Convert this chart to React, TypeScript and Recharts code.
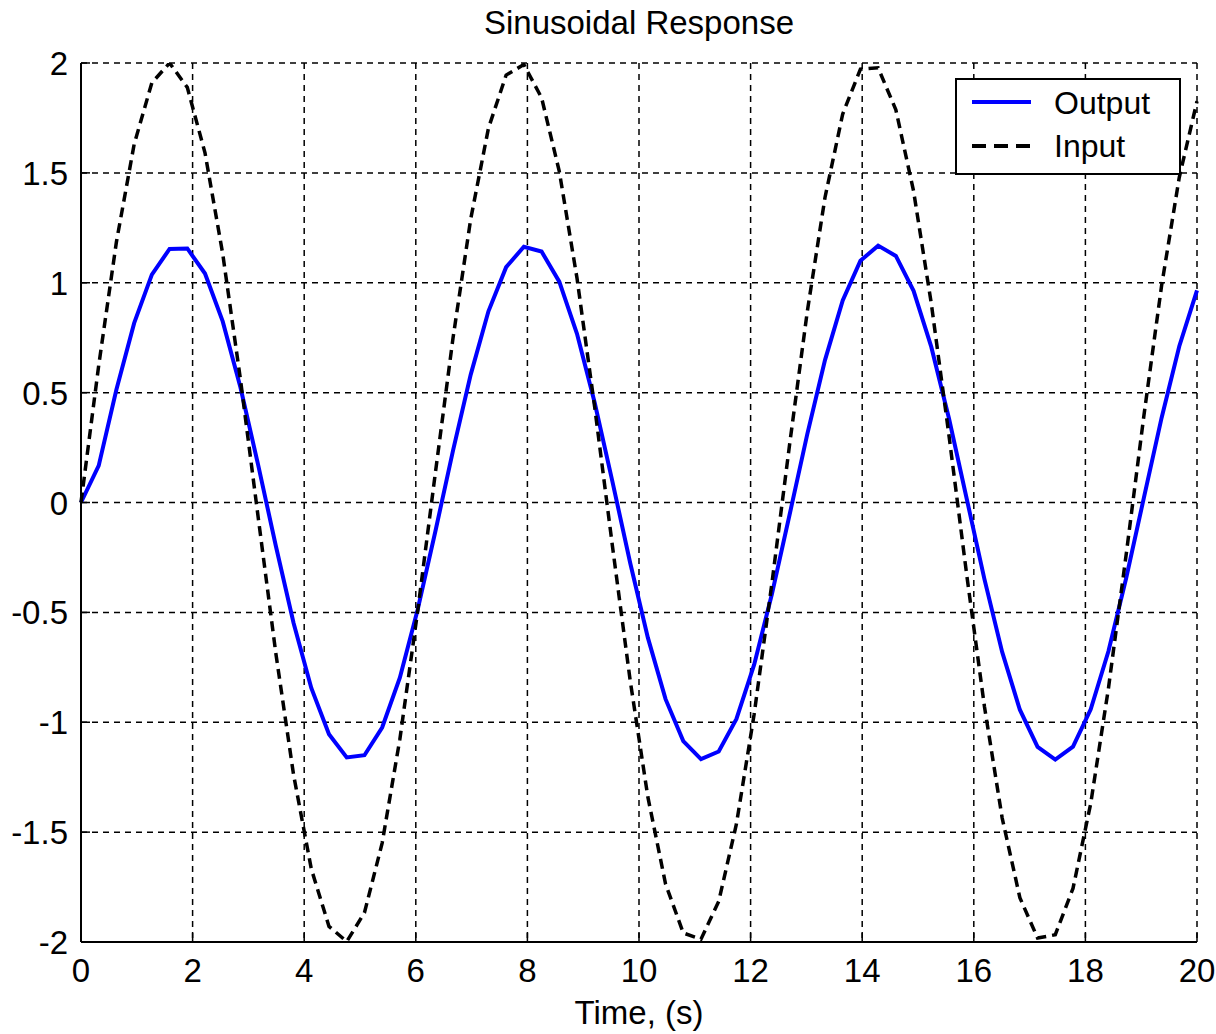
import React from 'react';
import { LineChart, Line, XAxis, YAxis, CartesianGrid } from 'recharts';

const timeValues = [
  0, 0.3175, 0.6349, 0.9524, 1.2698, 1.5873, 1.9048, 2.2222, 2.5397, 2.8571,
  3.1746, 3.4921, 3.8095, 4.127, 4.4444, 4.7619, 5.0794, 5.3968, 5.7143, 6.0317,
  6.3492, 6.6667, 6.9841, 7.3016, 7.619, 7.9365, 8.254, 8.5714, 8.8889, 9.2063,
  9.5238, 9.8413, 10.1587, 10.4762, 10.7937, 11.1111, 11.4286, 11.746, 12.0635, 12.381,
  12.6984, 13.0159, 13.3333, 13.6508, 13.9683, 14.2857, 14.6032, 14.9206, 15.2381, 15.5556,
  15.873, 16.1905, 16.5079, 16.8254, 17.1429, 17.4603, 17.7778, 18.0952, 18.4127, 18.7302,
  19.0476, 19.3651, 19.6825, 20.0,
];

const inputValues = [
  0, 0.624, 1.186, 1.63, 1.91, 2.0, 1.889, 1.591, 1.132, 0.561,
  -0.066, -0.687, -1.239, -1.667, -1.929, -1.998, -1.867, -1.55, -1.077, -0.498,
  0.132, 0.748, 1.29, 1.703, 1.945, 1.993, 1.842, 1.507, 1.021, 0.433,
  -0.198, -0.809, -1.34, -1.736, -1.959, -1.987, -1.815, -1.463, -0.964, -0.369,
  0.263, 0.869, 1.388, 1.768, 1.972, 1.978, 1.787, 1.417, 0.906, 0.304,
  -0.329, -0.928, -1.435, -1.798, -1.982, -1.967, -1.756, -1.37, -0.846, -0.238,
  0.394, 0.986, 1.48, 1.826,
];

const outputValues = [
  0, 0.168, 0.514, 0.816, 1.037, 1.154, 1.156, 1.042, 0.824, 0.524,
  0.171, -0.198, -0.548, -0.844, -1.055, -1.16, -1.15, -1.024, -0.797, -0.489,
  -0.133, 0.236, 0.582, 0.87, 1.071, 1.164, 1.142, 1.005, 0.768, 0.454,
  0.095, -0.274, -0.615, -0.895, -1.086, -1.168, -1.133, -0.985, -0.738, -0.418,
  -0.056, 0.311, 0.648, 0.92, 1.1, 1.169, 1.122, 0.963, 0.708, 0.382,
  0.017, -0.349, -0.68, -0.943, -1.112, -1.17, -1.111, -0.941, -0.677, -0.345,
  0.021, 0.385, 0.711, 0.965,
];

const xTicks = [0, 2, 4, 6, 8, 10, 12, 14, 16, 18, 20];
const yTicks = [-2, -1.5, -1, -0.5, 0, 0.5, 1, 1.5, 2];

const titleText = 'Sinusoidal Response';
const xLabelText = 'Time, (s)';
const seriesNames = { output: 'Output', input: 'Input' };

const data = timeValues.map((t, i) => ({ t, input: inputValues[i], output: outputValues[i] }));

const FONT = '"Liberation Sans", Arial, sans-serif';
const TICK_LEN = 9;

const BottomTick = (props: any) => {
  const { x, y, payload } = props;
  return (
    <g>
      <line x1={x} x2={x} y1={y} y2={y - TICK_LEN} stroke="#000" strokeWidth={1.5} />
      <text x={x} y={y + 40} textAnchor="middle" fontSize={33} fontFamily={FONT} fill="#000">
        {String(payload.value)}
      </text>
    </g>
  );
};

const LeftTick = (props: any) => {
  const { x, y, payload } = props;
  return (
    <g>
      <line x1={x} x2={x + TICK_LEN} y1={y} y2={y} stroke="#000" strokeWidth={1.5} />
      <text x={x - 13} y={y + 12} textAnchor="end" fontSize={33} fontFamily={FONT} fill="#000">
        {String(payload.value)}
      </text>
    </g>
  );
};

const TopTick = (props: any) => {
  const { x, y } = props;
  return <line x1={x} x2={x} y1={y} y2={y + TICK_LEN} stroke="#000" strokeWidth={1.5} />;
};

const RightTick = (props: any) => {
  const { x, y } = props;
  return <line x1={x} x2={x - TICK_LEN} y1={y} y2={y} stroke="#000" strokeWidth={1.5} />;
};

const LegendBox = () => (
  <svg width={226} height={97} style={{ display: 'block' }}>
    <rect x={1} y={1} width={224} height={95} fill="#fff" stroke="#000" strokeWidth={2} />
    <line x1={17} x2={76} y1={24} y2={24} stroke="#0000ff" strokeWidth={4} />
    <text x={99} y={36} fontSize={32} fontFamily={FONT} fill="#000">{seriesNames.output}</text>
    <line x1={17} x2={76} y1={68} y2={68} stroke="#000" strokeWidth={4} strokeDasharray="14 8" />
    <text x={99} y={79} fontSize={32} fontFamily={FONT} fill="#000">{seriesNames.input}</text>
  </svg>
);

export default function App() {
  return (
    <div
      style={{
        position: 'absolute',
        left: 0,
        top: 0,
        width: 1216,
        height: 1034,
        overflow: 'hidden',
        background: '#fff',
        fontFamily: FONT,
      }}
    >
      <div
        style={{
          position: 'absolute',
          left: 81,
          top: 0,
          width: 1116,
          height: 46,
          lineHeight: '46px',
          fontSize: 33,
          textAlign: 'center',
          color: '#000',
        }}
      >
        {titleText}
      </div>
      <LineChart
        width={1216}
        height={1034}
        data={data}
        margin={{ top: 63, right: 19, bottom: 0, left: 0 }}
      >
        <CartesianGrid stroke="#000" strokeWidth={1.5} strokeDasharray="6 5" />
        <XAxis
          dataKey="t"
          type="number"
          domain={[0, 20]}
          ticks={xTicks}
          height={92}
          tickSize={0}
          tickMargin={0}
          tick={<BottomTick />}
          axisLine={{ stroke: '#000', strokeWidth: 2 }}
          interval={0}
        />
        <XAxis
          xAxisId="top"
          orientation="top"
          dataKey="t"
          type="number"
          domain={[0, 20]}
          ticks={xTicks}
          height={0}
          tickSize={0}
          tickMargin={0}
          tick={<TopTick />}
          axisLine={{ stroke: '#000', strokeWidth: 2 }}
          interval={0}
        />
        <YAxis
          type="number"
          domain={[-2, 2]}
          ticks={yTicks}
          width={81}
          tickSize={0}
          tickMargin={0}
          tick={<LeftTick />}
          axisLine={{ stroke: '#000', strokeWidth: 2 }}
          interval={0}
          allowDataOverflow
        />
        <YAxis
          yAxisId="right"
          orientation="right"
          type="number"
          domain={[-2, 2]}
          ticks={yTicks}
          width={0}
          tickSize={0}
          tickMargin={0}
          tick={<RightTick />}
          axisLine={{ stroke: '#000', strokeWidth: 2 }}
          interval={0}
          allowDataOverflow
        />
        <Line
          type="linear"
          dataKey="output"
          name={seriesNames.output}
          stroke="#0000ff"
          strokeWidth={4}
          dot={false}
          activeDot={false}
          isAnimationActive={false}
        />
        <Line
          type="linear"
          dataKey="input"
          name={seriesNames.input}
          stroke="#000"
          strokeWidth={3.5}
          strokeDasharray="10 6"
          dot={false}
          activeDot={false}
          isAnimationActive={false}
        />
      </LineChart>
      <div style={{ position: 'absolute', left: 955, top: 78, width: 226, height: 97 }}>
        <LegendBox />
      </div>
      <div
        style={{
          position: 'absolute',
          left: 81,
          top: 990,
          width: 1116,
          height: 44,
          lineHeight: '46px',
          fontSize: 33,
          textAlign: 'center',
          color: '#000',
        }}
      >
        {xLabelText}
      </div>
    </div>
  );
}
